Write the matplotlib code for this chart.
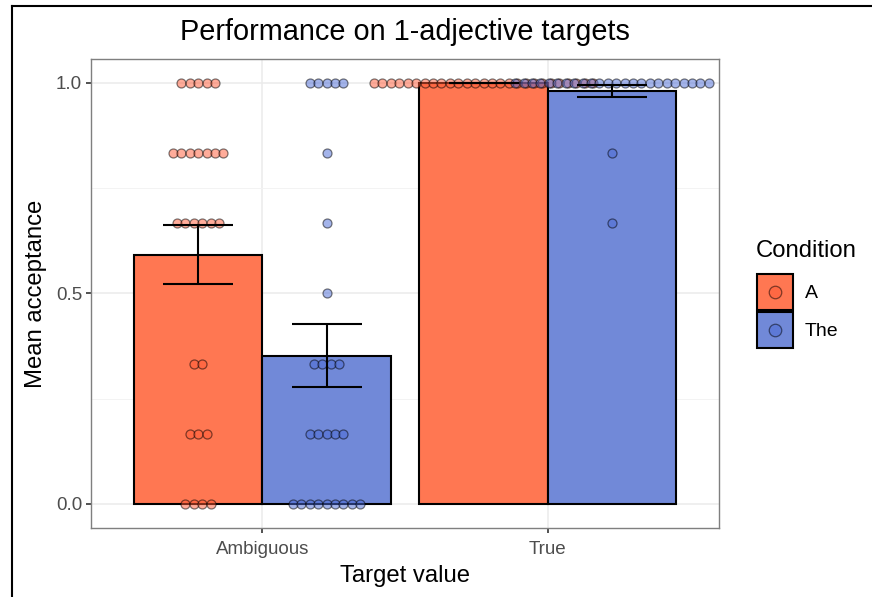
import matplotlib.pyplot as plt
import numpy as np
from matplotlib.patches import Rectangle
from matplotlib.lines import Line2D

plt.rcParams['font.family'] = ['Liberation Sans', 'DejaVu Sans']

# response levels (proportion of trials accepted) and how many participants at each
levels = np.array([0, 1/6, 1/3, 1/2, 2/3, 5/6, 1])
amb_a_counts = [4, 3, 2, 0, 6, 7, 5]
amb_the_counts = [9, 5, 4, 1, 1, 1, 5]
true_a_counts = [0, 0, 0, 0, 0, 0, 27]
true_the_counts = [0, 0, 0, 0, 1, 1, 24]

targets = ['Ambiguous', 'True']
conditions = ['A', 'The']
bar_colors = {'A': '#FF7752', 'The': '#7189D8'}
dot_colors = {'A': '#FF5A36', 'The': '#4A6AD6'}

counts = {
    ('Ambiguous', 'A'): amb_a_counts,
    ('Ambiguous', 'The'): amb_the_counts,
    ('True', 'A'): true_a_counts,
    ('True', 'The'): true_the_counts,
}

fig = plt.figure(figsize=(8.72, 5.97), dpi=100)
ax = fig.add_axes([0.1044, 0.1156, 0.7202, 0.7856])

dodge = 0.45
dot_step = 0.0295

for i, t in enumerate(targets):
    for j, c in enumerate(conditions):
        xc = i + 1 + (j - 0.5) * dodge
        n_at = np.array(counts[(t, c)])
        vals = np.repeat(levels, n_at)
        mean = vals.mean()
        se = vals.std(ddof=1) / np.sqrt(len(vals))
        ax.bar(xc, mean, width=dodge, color=bar_colors[c], edgecolor='black',
               linewidth=1.5, zorder=2)
        # centred dot stacks
        for lv, k in zip(levels, n_at):
            if k == 0:
                continue
            xs = xc + (np.arange(k) - (k - 1) / 2) * dot_step
            ax.scatter(xs, np.full(k, lv), s=42, facecolor=dot_colors[c],
                       edgecolor='black', linewidth=0.9, alpha=0.5, zorder=3)
        ax.errorbar(xc, mean, yerr=se, fmt='none', ecolor='black', elinewidth=1.5,
                    capsize=25.5, capthick=1.5, zorder=4)

ax.set_xlim(0.4, 2.6)
ax.set_ylim(-0.057, 1.057)
ax.set_xticks([1, 2])
ax.set_xticklabels(targets)
ax.set_yticks([0, 0.5, 1.0])
ax.set_yticklabels(['0.0', '0.5', '1.0'])
ax.set_yticks([0.25, 0.75], minor=True)
ax.tick_params(axis='both', which='major', colors='#333333', labelcolor='#4D4D4D',
               labelsize=13.5, length=3.5, width=1.2, pad=3)
ax.tick_params(axis='x', which='major', pad=6)
ax.tick_params(axis='y', which='minor', length=0)
ax.grid(True, which='major', color='#EBEBEB', linewidth=1.1, zorder=0)
ax.grid(True, which='minor', axis='y', color='#F3F3F3', linewidth=0.7, zorder=0)
ax.set_axisbelow(True)
for s in ax.spines.values():
    s.set_color('#7F7F7F')
    s.set_linewidth(1.0)

ax.set_xlabel('Target value', fontsize=17.2, labelpad=5)
ax.set_ylabel('Mean acceptance', fontsize=17.2, labelpad=6.5)
fig.text(0.4645, 0.947, 'Performance on 1-adjective targets', fontsize=20.8,
         ha='center', va='center')

# legend drawn by hand, ggplot style
W, H = 872, 597
fig.text(756 / W, 1 - 251 / H, 'Condition', fontsize=17.2, ha='left', va='center')
for k, (c, ytop) in enumerate(zip(conditions, [274, 312])):
    fig.add_artist(Rectangle((757 / W, 1 - (ytop + 36) / H), 36 / W, 36 / H,
                             transform=fig.transFigure, facecolor=bar_colors[c],
                             edgecolor='black', linewidth=1.5))
    fig.add_artist(Line2D([775 / W], [1 - (ytop + 18) / H], marker='o', markersize=9,
                          markerfacecolor=dot_colors[c], markeredgecolor='black',
                          markeredgewidth=0.9, alpha=0.5, transform=fig.transFigure))
    fig.text(805 / W, 1 - (ytop + 19) / H, c, fontsize=14, ha='left', va='center')

# outer box from the screenshot
fig.add_artist(Line2D([12 / W, 1.0], [1 - 6 / H, 1 - 6 / H], color='black',
                      linewidth=1.5, transform=fig.transFigure))
fig.add_artist(Line2D([12 / W, 12 / W], [0, 1 - 6 / H], color='black',
                      linewidth=1.5, transform=fig.transFigure))

fig.savefig('out.png', dpi=100)
